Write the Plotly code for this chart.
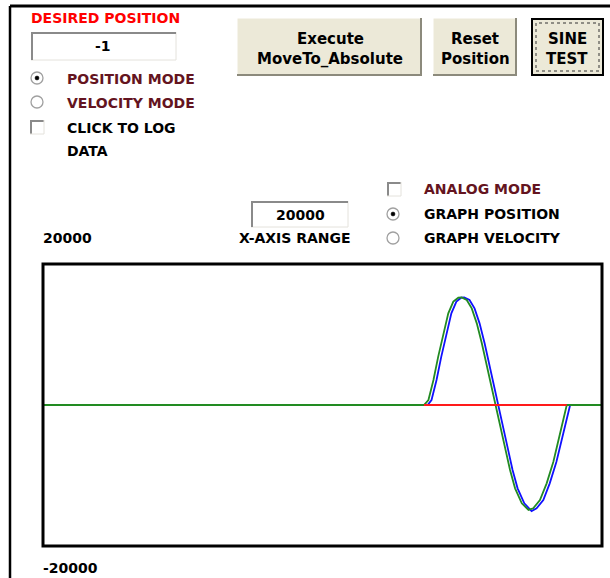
import plotly.graph_objects as go

# ---------------- data ----------------
x_range_max = 20000
y_range = [-20000, 20000]
y_top_label = "20000"
y_bottom_label = "-20000"

green_x = [0, 13630, 13790, 13970, 14140, 14320, 14500, 14680, 14860, 14980, 15160, 15340,
           15520, 15700, 15870, 16050, 16210, 16350, 16530, 16710, 16890, 17130, 17370,
           17540, 17780, 18020, 18260, 18440, 18620, 18740, 20000]
green_y = [0, 0, 710, 3550, 6860, 10170, 13000, 14660, 15220, 15270, 14890, 13710,
           11580, 8750, 5670, 2600, 0, -2600, -5910, -9220, -11820, -13950, -14890,
           -14660, -13480, -11110, -8040, -4960, -1660, 0, 0]

blue_x = [0, 13760, 13900, 14080, 14250, 14430, 14610, 14790, 14960, 15070, 15260, 15440,
          15620, 15800, 15970, 16140, 16290, 16440, 16620, 16800, 16980, 17220, 17480,
          17660, 17900, 18130, 18370, 18550, 18740, 18860, 20000]
blue_y = [0, 0, 710, 3550, 6860, 10170, 13000, 14660, 15220, 15270, 14890, 13710,
          11580, 8750, 5670, 2600, 0, -2600, -5910, -9220, -11820, -13950, -15040,
          -14660, -13480, -11110, -8040, -4960, -1660, 0, 0]

red_x = [13630, 18740]
red_y = [0, 0]

# ---------------- layout geometry (pixels) ----------------
W, H = 610, 578
L, R, T, B = 43, 8, 264, 32
PW = W - L - R
PH = H - T - B


def px(x):
    return (x - L) / PW


def py(y):
    return (H - B - y) / PH


FONT = "DejaVu Sans"
MAROON = "#641420"

fig = go.Figure()
fig.add_trace(go.Scatter(x=blue_x, y=blue_y, mode="lines",
                         line=dict(color="#1010ff", width=1.8), hoverinfo="skip"))
fig.add_trace(go.Scatter(x=green_x, y=green_y, mode="lines",
                         line=dict(color="#228b22", width=1.8), hoverinfo="skip"))
fig.add_trace(go.Scatter(x=red_x, y=red_y, mode="lines",
                         line=dict(color="#ff1a1a", width=1.8), hoverinfo="skip"))

shapes = []
annotations = []


def line(x0, y0, x1, y1, color, width=1, dash=None):
    d = dict(type="line", xref="paper", yref="paper",
             x0=px(x0), y0=py(y0), x1=px(x1), y1=py(y1),
             line=dict(color=color, width=width))
    if dash:
        d["line"]["dash"] = dash
    shapes.append(d)


def rect(x0, y0, x1, y1, fill=None, color=None, width=0, dash=None):
    d = dict(type="rect", xref="paper", yref="paper",
             x0=px(x0), y0=py(y1), x1=px(x1), y1=py(y0),
             line=dict(color=color or "rgba(0,0,0,0)", width=width))
    if fill:
        d["fillcolor"] = fill
    if dash:
        d["line"]["dash"] = dash
    shapes.append(d)


def circle(cx, cy, r, fill=None, color=None, width=0):
    d = dict(type="circle", xref="paper", yref="paper",
             x0=px(cx - r), x1=px(cx + r), y0=py(cy + r), y1=py(cy - r),
             line=dict(color=color or "rgba(0,0,0,0)", width=width))
    if fill:
        d["fillcolor"] = fill
    shapes.append(d)


def text(s, x, y, color="black", size=14, anchor="left"):
    annotations.append(dict(text=s, xref="paper", yref="paper", x=px(x), y=py(y),
                            xanchor=anchor, yanchor="middle", showarrow=False,
                            font=dict(family=FONT, size=size, color=color, weight="bold")))


def textbox(x0, y0, x1, y1):
    rect(x0, y0, x1, y1, fill="white")
    line(x0, y1, x1, y1, "#e4e2dc", 1)
    line(x1, y0, x1, y1, "#e4e2dc", 1)
    line(x0, y0 + 1, x1, y0 + 1, "#8a8a8a", 2)
    line(x0 + 1, y0, x0 + 1, y1, "#8a8a8a", 2)


def button(x0, y0, x1, y1, focused=False):
    rect(x0, y0, x1, y1, fill="#ece9d8")
    if focused:
        rect(x0 + 1, y0 + 1, x1 - 1, y1 - 1, color="black", width=2)
        rect(x0 + 5, y0 + 5, x1 - 5, y1 - 5, color="#333333", width=1, dash="dot")
    else:
        line(x0, y0, x1, y0, "#ffffff", 1)
        line(x0, y0, x0, y1, "#ffffff", 1)
        line(x0, y1 - 1, x1, y1 - 1, "#8c8a7c", 2)
        line(x1 - 1, y0, x1 - 1, y1, "#8c8a7c", 2)


def radio(cx, cy, selected):
    circle(cx, cy, 6, fill="white", color="#a0a0a0", width=1.3)
    if selected:
        circle(cx, cy, 2, fill="black", color="black", width=0.5)


def checkbox(x0, y0, s=14):
    rect(x0, y0, x0 + s, y0 + s, fill="white")
    line(x0, y0 + 1, x0 + s, y0 + 1, "#8a8a8a", 2)
    line(x0 + 1, y0, x0 + 1, y0 + s, "#8a8a8a", 2)
    line(x0, y0 + s, x0 + s, y0 + s, "#e4e2dc", 1)
    line(x0 + s, y0, x0 + s, y0 + s, "#e4e2dc", 1)


# outer panel frame
line(10, 6, 610, 6, "black", 3)
line(10, 6, 10, 578, "black", 2.5)

# top-left controls
text("DESIRED POSITION", 29, 18, color="#ff0000")
textbox(31, 32, 176, 60)
text("-1", 103, 46, anchor="center")
radio(37, 78, True)
text("POSITION MODE", 65, 79, color=MAROON)
radio(37, 102, False)
text("VELOCITY MODE", 65, 103, color=MAROON)
checkbox(30, 120)
text("CLICK TO LOG", 65, 128)
text("DATA", 65, 151)

# buttons
button(237, 18, 422, 76)
text("Execute", 330, 39, size=15, anchor="center")
text("MoveTo_Absolute", 330, 59, size=15, anchor="center")
button(433, 18, 517, 76)
text("Reset", 475, 39, size=15, anchor="center")
text("Position", 475, 59, size=15, anchor="center")
button(531, 18, 604, 76, focused=True)
text("SINE", 567, 39, size=15, anchor="center")
text("TEST", 567, 59, size=15, anchor="center")

# x-axis range control
textbox(251, 201, 348, 227)
text("20000", 300, 215, anchor="center")
text("X-AXIS RANGE", 295, 238, anchor="center")

# graph options
checkbox(387, 182)
text("ANALOG MODE", 422, 189, color=MAROON)
radio(393, 214, True)
text("GRAPH POSITION", 422, 214)
radio(393, 238, False)
text("GRAPH VELOCITY", 422, 238)

# scale labels
text(y_top_label, 41, 238)
text(y_bottom_label, 41, 568)

# plot frame
rect(L, T, W - R, H - B, color="black", width=3)

fig.update_layout(
    width=W, height=H, autosize=False,
    margin=dict(l=L, r=R, t=T, b=B, pad=0),
    paper_bgcolor="white", plot_bgcolor="white",
    showlegend=False,
    xaxis=dict(range=[0, x_range_max], visible=False, fixedrange=True),
    yaxis=dict(range=y_range, visible=False, fixedrange=True),
    shapes=shapes, annotations=annotations,
)

fig.write_html("out.html", config={"displayModeBar": False},
               post_script="document.body.style.margin='0';")
